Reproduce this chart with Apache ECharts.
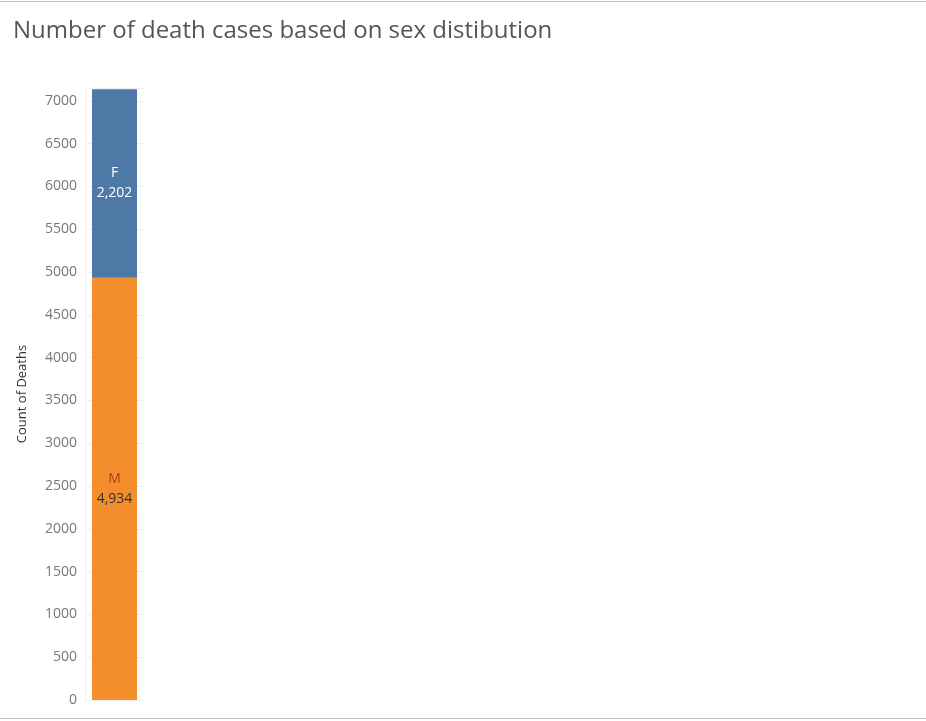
<!DOCTYPE html>
<html lang="en">
<head>
<meta charset="UTF-8">
<title>Deaths by sex</title>
<script src="https://cdn.jsdelivr.net/npm/echarts@6/dist/echarts.min.js"></script>
<style>html,body{margin:0;padding:0;background:#fff}#chart{width:926px;height:721px}</style>
</head>
<body>
<div id="chart"></div>
<script>
    var categories = ['All'];
    var maleDeaths = [4934];
    var femaleDeaths = [2202];
    var chart = echarts.init(document.getElementById('chart'));
    var fmt = function (v) { return v.toLocaleString('en-US'); };
    chart.setOption({
        animation: false,
        title: {
            text: 'Number of death cases based on sex distibution',
            left: 8, top: 14,
            textStyle: { fontFamily: 'Open Sans', fontWeight: 'normal', fontSize: 24, color: '#555' }
        },
        graphic: [
            { type: 'rect', shape: { x: 0, y: 1, width: 926, height: 1 }, style: { fill: '#bbb' } },
            { type: 'rect', shape: { x: 0, y: 718, width: 926, height: 1 }, style: { fill: '#bbb' } }
        ],
        grid: { left: 85, width: 59, top: 88, bottom: 21 },
        xAxis: {
            type: 'category', data: categories,
            axisLine: { show: false }, axisTick: { show: false }, axisLabel: { show: false }
        },
        yAxis: {
            type: 'value', min: 0, max: 7150, interval: 500,
            name: 'Count of Deaths', nameLocation: 'middle', nameGap: 56,
            nameTextStyle: { fontFamily: 'Open Sans', fontSize: 13, color: '#333' },
            axisLine: { show: true, lineStyle: { color: '#f0f0f0' } },
            axisTick: { show: false },
            axisLabel: {
                margin: 8, color: '#777', fontFamily: 'Open Sans', fontSize: 14,
                formatter: function (v) { return v > 7000 ? '' : v; }
            },
            splitLine: { lineStyle: { color: '#f0f0f0' } }
        },
        series: [
            {
                name: 'M', type: 'bar', stack: 'sex', barWidth: 45, data: maleDeaths,
                itemStyle: { color: '#f28e2b' },
                label: {
                    show: true, position: 'inside', lineHeight: 20, fontFamily: 'Open Sans', fontSize: 14,
                    formatter: function (p) { return '{s|M}\n' + fmt(p.value); },
                    color: '#333',
                    rich: { s: { color: '#c0331b', fontSize: 14, fontFamily: 'Open Sans', lineHeight: 20 } }
                }
            },
            {
                name: 'F', type: 'bar', stack: 'sex', barWidth: 45, data: femaleDeaths,
                itemStyle: { color: '#4e79a7' },
                label: {
                    show: true, position: 'inside', lineHeight: 20, fontFamily: 'Open Sans', fontSize: 14,
                    color: '#fff',
                    formatter: function (p) { return 'F\n' + fmt(p.value); }
                }
            }
        ]
    });
</script>
</body>
</html>
